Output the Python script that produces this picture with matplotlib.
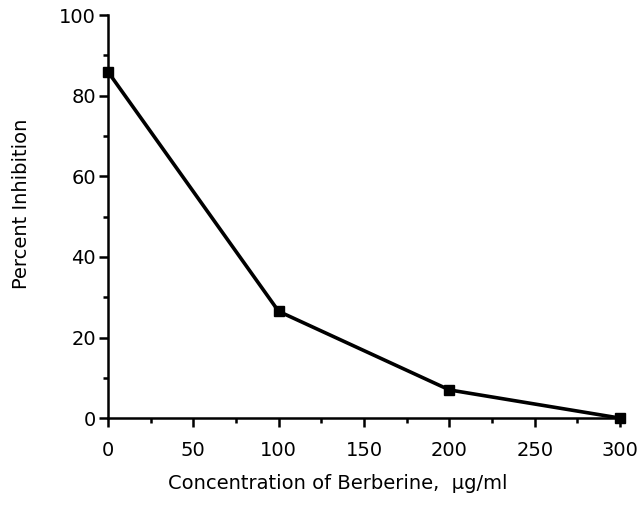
import matplotlib
matplotlib.use("Agg")
import matplotlib.pyplot as plt
from matplotlib.ticker import MultipleLocator

conc = [0, 100, 200, 300]
inhibition = [86, 26.5, 7, 0]

plt.rcParams['font.family'] = ['DejaVu Sans']

fig = plt.figure(figsize=(6.42, 5.05), dpi=100)
ax = fig.add_axes([0.168, 0.172, 0.798, 0.798])
ax.plot(conc, inhibition, color='black', lw=2.6, marker='s', ms=7,
        mfc='black', mec='black', clip_on=False, zorder=3)
ax.set_xlim(0, 300)
ax.set_ylim(0, 100)
ax.spines['top'].set_visible(False)
ax.spines['right'].set_visible(False)
for s in ['left', 'bottom']:
    ax.spines[s].set_linewidth(1.8)
ax.xaxis.set_major_locator(MultipleLocator(50))
ax.xaxis.set_minor_locator(MultipleLocator(25))
ax.yaxis.set_major_locator(MultipleLocator(20))
ax.yaxis.set_minor_locator(MultipleLocator(10))
ax.tick_params(which='major', direction='out', length=6.5, width=1.8, labelsize=14)
ax.tick_params(which='minor', direction='out', length=3.5, width=1.8)
ax.tick_params(axis='x', which='major', pad=10)
ax.tick_params(axis='y', which='major', pad=2)
ax.set_xlabel('Concentration of Berberine,  µg/ml', fontsize=14, labelpad=10, x=0.449)
ax.set_ylabel('Percent Inhibition', fontsize=14, labelpad=20, y=0.533)
fig.savefig('out.png', dpi=100)
